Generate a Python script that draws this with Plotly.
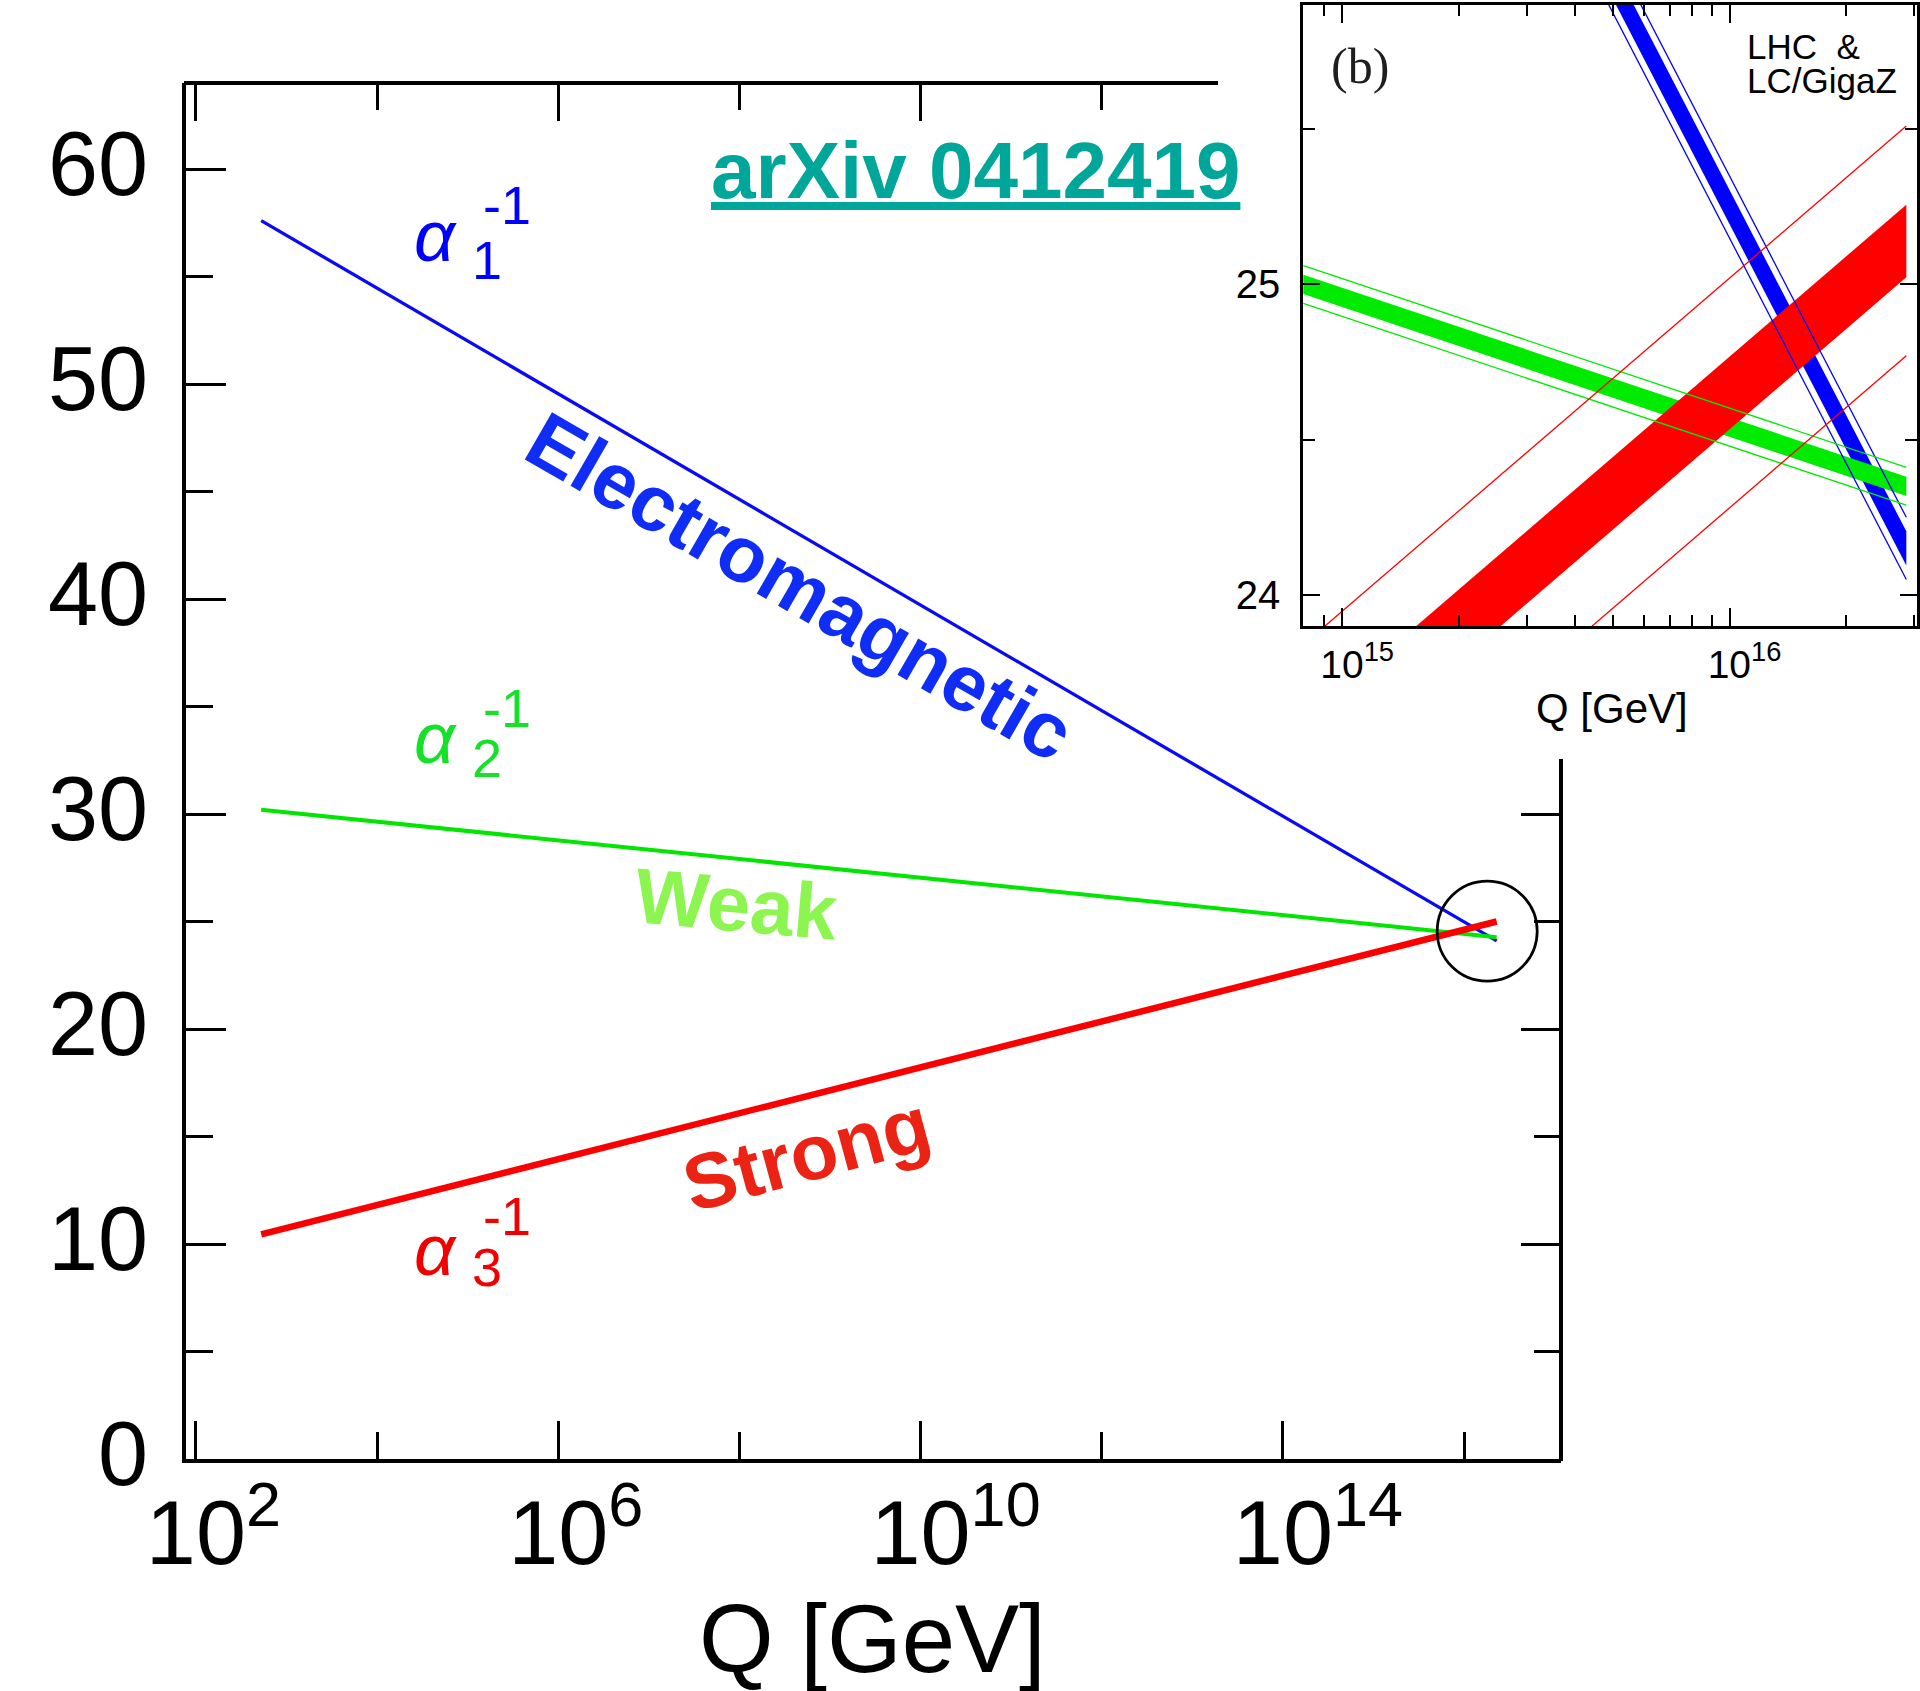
import plotly.graph_objects as go

W, H = 1920, 1691
FONT = "Liberation Sans, Arial, Helvetica, sans-serif"
SERIF = "Liberation Serif, Times New Roman, serif"


def px(x):
    return x / W


def py(y):
    return 1 - y / H


# ---------------- main panel: running inverse couplings ----------------
main_q = [5.25e2, 2.29e16]          # GeV
alpha1_inv = [57.6, 24.1]
alpha2_inv = [30.2, 24.27]
alpha3_inv = [10.45, 25.0]

# unification region marker
circle_q = [1.80e16]
circle_alpha_inv = [24.55]

main_xtick_vals = [1e2, 1e6, 1e10, 1e14]
main_xtick_text = ["10<sup>2\u2007</sup>", "10<sup>6\u2007</sup>",
                   "10<sup>10</sup>", "10<sup>14</sup>"]
main_xminor_vals = [1e4, 1e8, 1e12, 1e16]
main_ytick_vals = [0, 10, 20, 30, 40, 50, 60]
main_yminor_vals = [5, 15, 25, 35, 45, 55]

# ---------------- inset (b): zoom on the unification point ----------------
inset_q = [7.94e14, 2.86e16]        # GeV
inv1_center = [27.90, 24.15]
inv1_fill_half, inv1_line_half = 0.055, 0.10
inv2_center = [25.00, 24.35]
inv2_fill_half, inv2_line_half = 0.031, 0.061
inv3_center = [23.47, 25.14]
inv3_fill_half, inv3_line_half = 0.117, 0.37

inset_xtick_vals = [1e15, 1e16]
inset_xtick_text = ["10<sup>15</sup>", "10<sup>16</sup>"]
inset_xminor_vals = [9e14, 2e15, 3e15, 4e15, 5e15, 6e15, 7e15, 8e15, 9e15, 2e16, 3e16]
inset_ytick_vals = [24, 25]
inset_yminor_vals = [24.5, 25.5]

BLUE, GREEN, RED = "rgb(0,0,255)", "rgb(0,235,0)", "rgb(255,0,0)"

fig = go.Figure()

# main curves
fig.add_trace(go.Scatter(x=main_q, y=alpha1_inv, mode="lines",
                         line=dict(color="rgb(10,10,245)", width=3.3), xaxis="x", yaxis="y"))
fig.add_trace(go.Scatter(x=main_q, y=alpha2_inv, mode="lines",
                         line=dict(color="rgb(0,230,0)", width=4), xaxis="x", yaxis="y"))
fig.add_trace(go.Scatter(x=main_q, y=alpha3_inv, mode="lines",
                         line=dict(color="rgb(250,0,0)", width=6.5), xaxis="x", yaxis="y"))
fig.add_trace(go.Scatter(x=circle_q, y=circle_alpha_inv, mode="markers",
                         marker=dict(symbol="circle-open", size=100, color="black",
                                     line=dict(width=2.7, color="black")),
                         xaxis="x", yaxis="y"))
# helper axes carrying the mirrored ticks on the visible part of the frame
fig.add_trace(go.Scatter(x=[], y=[], xaxis="x3", yaxis="y3"))


def band(center, half):
    lo = [c - half for c in center]
    hi = [c + half for c in center]
    return lo, hi


bands = [(inv1_center, inv1_fill_half, inv1_line_half, BLUE),
         (inv2_center, inv2_fill_half, inv2_line_half, GREEN),
         (inv3_center, inv3_fill_half, inv3_line_half, RED)]

for center, fh, lh, col in bands:
    lo, hi = band(center, fh)
    fig.add_trace(go.Scatter(x=inset_q + inset_q[::-1], y=lo + hi[::-1],
                             fill="toself", fillcolor=col, mode="lines",
                             line=dict(width=0, color=col), xaxis="x2", yaxis="y2"))
for center, fh, lh, col in bands:
    lo, hi = band(center, lh)
    for edge in (lo, hi):
        fig.add_trace(go.Scatter(x=inset_q, y=edge, mode="lines",
                                 line=dict(color=col, width=1.3), xaxis="x2", yaxis="y2"))

MAIN_X = [px(186), px(1561)]
MAIN_Y = [py(1459), py(83)]
INSET_X = [px(1303), px(1917)]
INSET_Y = [py(626), py(5)]

tick_common = dict(showgrid=False, zeroline=False, ticks="inside", tickcolor="black",
                   automargin=False)

fig.update_layout(
    width=W, height=H, autosize=False,
    margin=dict(l=0, r=0, t=0, b=0, pad=0),
    paper_bgcolor="white", plot_bgcolor="white",
    showlegend=False,
    font=dict(family=FONT, color="black"),
    xaxis=dict(type="log", domain=MAIN_X, range=[1.89, 17.07], anchor="y",
               showline=True, linewidth=4, linecolor="black",
               ticklen=38, tickwidth=3,
               tickmode="array", tickvals=main_xtick_vals, ticktext=main_xtick_text,
               tickfont=dict(size=90, family=FONT, color="black"),
               ticklabelshift=35, ticklabelstandoff=-7,
               minor=dict(tickmode="array", tickvals=main_xminor_vals, ticks="inside",
                          ticklen=27, tickwidth=3, tickcolor="black"),
               **tick_common),
    yaxis=dict(domain=MAIN_Y, range=[0, 64], anchor="x",
               showline=True, linewidth=4, linecolor="black",
               ticklen=40, tickwidth=3,
               tickmode="array", tickvals=main_ytick_vals,
               tickfont=dict(size=90, family=FONT, color="black"),
               ticklabelstandoff=16, ticklabelshift=-6,
               minor=dict(tickmode="array", tickvals=main_yminor_vals, ticks="inside",
                          ticklen=27, tickwidth=3, tickcolor="black"),
               **tick_common),
    xaxis3=dict(type="log", overlaying="x", side="top", anchor="y", range=[1.89, 17.07],
                showline=False, showticklabels=False, ticklen=38, tickwidth=3,
                tickmode="array", tickvals=[1e2, 1e6, 1e10],
                minor=dict(tickmode="array", tickvals=[1e4, 1e8, 1e12], ticks="inside",
                           ticklen=27, tickwidth=3, tickcolor="black"),
                **tick_common),
    yaxis3=dict(overlaying="y", side="right", anchor="x", range=[0, 64],
                showline=False, showticklabels=False, ticklen=40, tickwidth=3,
                tickmode="array", tickvals=[10, 20, 30],
                minor=dict(tickmode="array", tickvals=[5, 15, 25], ticks="inside",
                           ticklen=27, tickwidth=3, tickcolor="black"),
                **tick_common),
    xaxis2=dict(type="log", domain=INSET_X, range=[14.899, 16.484], anchor="y2",
                showline=True, linewidth=2.5, linecolor="black", mirror="ticks",
                ticklen=18, tickwidth=2,
                tickmode="array", tickvals=inset_xtick_vals, ticktext=inset_xtick_text,
                tickfont=dict(size=39, family=FONT, color="black"),
                ticklabelshift=15, ticklabelstandoff=2,
                minor=dict(tickmode="array", tickvals=inset_xminor_vals, ticks="inside",
                           ticklen=11, tickwidth=2, tickcolor="black"),
                **tick_common),
    yaxis2=dict(domain=INSET_Y, range=[23.9, 25.9], anchor="x2",
                showline=True, linewidth=2.5, linecolor="black", mirror="ticks",
                ticklen=17, tickwidth=2,
                tickmode="array", tickvals=inset_ytick_vals,
                tickfont=dict(size=40, family=FONT, color="black"),
                ticklabelstandoff=12,
                minor=dict(tickmode="array", tickvals=inset_yminor_vals, ticks="inside",
                           ticklen=12, tickwidth=2, tickcolor="black"),
                **tick_common),
)

# visible pieces of the main frame (top and right), the rest sits behind the inset
fig.add_shape(type="line", xref="paper", yref="paper",
              x0=px(184), x1=px(1218), y0=py(83), y1=py(83),
              line=dict(color="black", width=4))
fig.add_shape(type="line", xref="paper", yref="paper",
              x0=px(1561), x1=px(1561), y0=py(759), y1=py(1461),
              line=dict(color="black", width=4))


def note(text, x, y, size, color="black", angle=0, family=FONT, xanchor="center"):
    fig.add_annotation(text=text, x=px(x), y=py(y), xref="paper", yref="paper",
                       showarrow=False, xanchor=xanchor, yanchor="middle",
                       textangle=angle, font=dict(size=size, color=color, family=family))


# axis titles
note("Q [GeV]", 872, 1638, 96)
note("Q [GeV]", 1612, 708, 42)

# coupling labels
for sub, col, ya, ys, yp in [("1", "rgb(0,0,255)", 236, 260, 205),
                             ("2", "rgb(20,225,40)", 738, 758, 708),
                             ("3", "rgb(240,0,0)", 1250, 1267, 1216)]:
    note("<i>α</i>", 435, ya, 72, col)
    note(sub, 487, ys, 54, col)
    note("-1", 507, yp, 54, col)

note("<b>Electromagnetic</b>", 800, 586, 79, "rgb(15,45,245)", angle=30)
note("<b>Weak</b>", 736, 904, 78, "rgb(140,245,80)", angle=5)
note("<b>Strong</b>", 806, 1154, 78, "rgb(235,35,20)", angle=-15)

note("<b><u>arXiv 0412419</u></b>", 975, 170, 80, "rgb(0,166,153)")

# inset texts
note("(b)", 1360, 66, 50, "rgb(30,30,30)", family=SERIF)
note("LHC\u00a0\u00a0&", 1745, 46, 35, xanchor="left")
note("LC/GigaZ", 1745, 81, 35, xanchor="left")

fig.write_html("out.html")
